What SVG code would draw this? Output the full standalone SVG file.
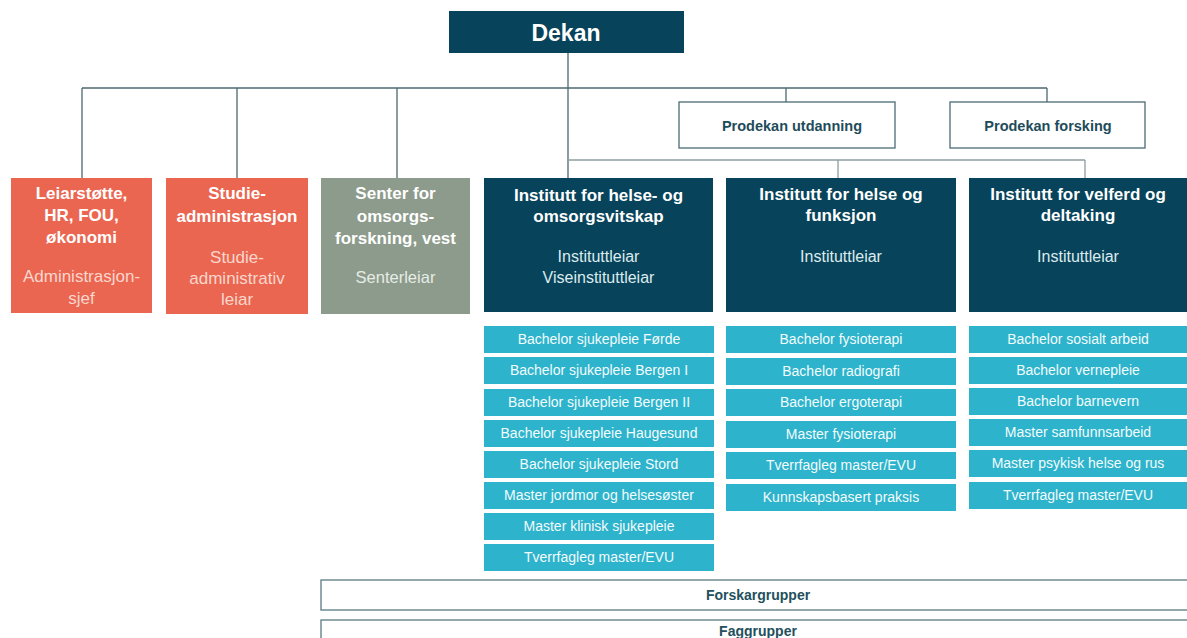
<svg xmlns="http://www.w3.org/2000/svg" width="1187" height="638" viewBox="0 0 1187 638">
<style>
text{font-family:"Liberation Sans",Arial,sans-serif;text-anchor:middle}
.dark{fill:#07435A}
.coral{fill:#EA6651}
.sage{fill:#8C9B8B}
.prog{fill:#2DB3CB}
.ttl{font-size:17px;font-weight:bold;fill:#FFFFFF}
.sub{font-size:17px;fill:#FBD6CC}
.subg{font-size:16.5px;fill:#E6ECE6}
.subd{font-size:16px;fill:#DDEBEF}
.pt{font-size:14px;fill:#F2FBFD}
.pd{fill:#FFFFFF;stroke:#4A6C76;stroke-width:1.3}
.pdt{font-size:14.5px;font-weight:bold;fill:#1E4C5A}
.bar{fill:#FFFFFF;stroke:#5A7A82;stroke-width:1.3}
.bt{font-size:14px;font-weight:bold;fill:#23505D}
.ln{stroke:#4E6870;stroke-width:1.3;fill:none}
.ln2{stroke:#8E9DA1;stroke-width:1.3;fill:none}
</style>
<g id="connectors">
<path class="ln" d="M568 53V178M82 88H1047M82 88V178M237 88V178M397 88V178M786 88V102M1047 88V102"/>
<path class="ln2" d="M568 160H1085M838 160V178M1085 160V178"/>
</g>
<g id="dekan"><rect class="dark" x="449" y="11" width="235" height="42"/><text x="566" y="41" style="font-size:23px;font-weight:bold;fill:#fff">Dekan</text></g>
<g id="prodekan-utdanning"><rect class="pd" x="679" y="102" width="216" height="46"/><text class="pdt" x="792" y="131">Prodekan utdanning</text></g>
<g id="prodekan-forsking"><rect class="pd" x="950" y="102" width="195" height="46"/><text class="pdt" x="1048" y="131">Prodekan forsking</text></g>
<g id="leiarstotte"><rect class="coral" x="11" y="178" width="141" height="135"/>
<text class="ttl" x="81.5" y="199">Leiarstøtte,</text><text class="ttl" x="81.5" y="221">HR, FOU,</text><text class="ttl" x="81.5" y="243">økonomi</text>
<text class="sub" x="81.5" y="282">Administrasjon-</text><text class="sub" x="81.5" y="304">sjef</text></g>
<g id="studieadministrasjon"><rect class="coral" x="166" y="178" width="142" height="136"/>
<text class="ttl" x="237" y="199">Studie-</text><text class="ttl" x="237" y="222">administrasjon</text>
<text class="sub" x="237" y="263">Studie-</text><text class="sub" x="237" y="284">administrativ</text><text class="sub" x="237" y="305">leiar</text></g>
<g id="senter"><rect class="sage" x="321" y="178" width="149" height="136"/>
<text class="ttl" x="395.5" y="199">Senter for</text><text class="ttl" x="395.5" y="222">omsorgs-</text><text class="ttl" x="395.5" y="244">forskning, vest</text>
<text class="subg" x="395.5" y="283">Senterleiar</text></g>
<g id="institutt-helse-omsorg"><rect class="dark" x="484" y="178" width="229" height="134"/>
<text class="ttl" x="598.5" y="201">Institutt for helse- og</text><text class="ttl" x="598.5" y="222">omsorgsvitskap</text>
<text class="subd" x="598.5" y="262">Instituttleiar</text><text class="subd" x="598.5" y="283">Viseinstituttleiar</text></g>
<g id="institutt-helse-funksjon"><rect class="dark" x="726" y="178" width="230" height="134"/>
<text class="ttl" x="841" y="200">Institutt for helse og</text><text class="ttl" x="841" y="221">funksjon</text>
<text class="subd" x="841" y="262">Instituttleiar</text></g>
<g id="institutt-velferd"><rect class="dark" x="969" y="178" width="220" height="134"/>
<text class="ttl" x="1078" y="200">Institutt for velferd og</text><text class="ttl" x="1078" y="221">deltaking</text>
<text class="subd" x="1078" y="262">Instituttleiar</text></g>
<g id="program-col1">
<rect class="prog" x="484" y="326" width="230" height="27"/><text class="pt" x="599" y="344">Bachelor sjukepleie Førde</text>
<rect class="prog" x="484" y="357" width="230" height="27"/><text class="pt" x="599" y="375">Bachelor sjukepleie Bergen I</text>
<rect class="prog" x="484" y="389" width="230" height="27"/><text class="pt" x="599" y="407">Bachelor sjukepleie Bergen II</text>
<rect class="prog" x="484" y="420" width="230" height="27"/><text class="pt" x="599" y="438">Bachelor sjukepleie Haugesund</text>
<rect class="prog" x="484" y="451" width="230" height="27"/><text class="pt" x="599" y="469">Bachelor sjukepleie Stord</text>
<rect class="prog" x="484" y="482" width="230" height="27"/><text class="pt" x="599" y="500">Master jordmor og helsesøster</text>
<rect class="prog" x="484" y="513" width="230" height="27"/><text class="pt" x="599" y="531">Master klinisk sjukepleie</text>
<rect class="prog" x="484" y="544" width="230" height="27"/><text class="pt" x="599" y="562">Tverrfagleg  master/EVU</text>
</g>
<g id="program-col2">
<rect class="prog" x="726" y="326" width="230" height="27"/><text class="pt" x="841" y="344">Bachelor fysioterapi</text>
<rect class="prog" x="726" y="358" width="230" height="27"/><text class="pt" x="841" y="376">Bachelor radiografi</text>
<rect class="prog" x="726" y="389" width="230" height="27"/><text class="pt" x="841" y="407">Bachelor ergoterapi</text>
<rect class="prog" x="726" y="421" width="230" height="27"/><text class="pt" x="841" y="439">Master fysioterapi</text>
<rect class="prog" x="726" y="452" width="230" height="27"/><text class="pt" x="841" y="470">Tverrfagleg  master/EVU</text>
<rect class="prog" x="726" y="484" width="230" height="27"/><text class="pt" x="841" y="502">Kunnskapsbasert  praksis</text>
</g>
<g id="program-col3">
<rect class="prog" x="969" y="326" width="220" height="27"/><text class="pt" x="1078" y="344">Bachelor  sosialt arbeid</text>
<rect class="prog" x="969" y="357" width="220" height="27"/><text class="pt" x="1078" y="375">Bachelor  vernepleie</text>
<rect class="prog" x="969" y="388" width="220" height="27"/><text class="pt" x="1078" y="406">Bachelor  barnevern</text>
<rect class="prog" x="969" y="419" width="220" height="27"/><text class="pt" x="1078" y="437">Master  samfunnsarbeid</text>
<rect class="prog" x="969" y="450" width="220" height="27"/><text class="pt" x="1078" y="468">Master psykisk helse og rus</text>
<rect class="prog" x="969" y="482" width="220" height="27"/><text class="pt" x="1078" y="500">Tverrfagleg  master/EVU</text>
</g>
<g id="forskargrupper"><rect class="bar" x="321" y="580" width="870" height="30"/><text class="bt" x="758" y="600">Forskargrupper</text></g>
<g id="faggrupper"><rect class="bar" x="321" y="620" width="870" height="30"/><text class="bt" x="758" y="636">Faggrupper</text></g>
</svg>
